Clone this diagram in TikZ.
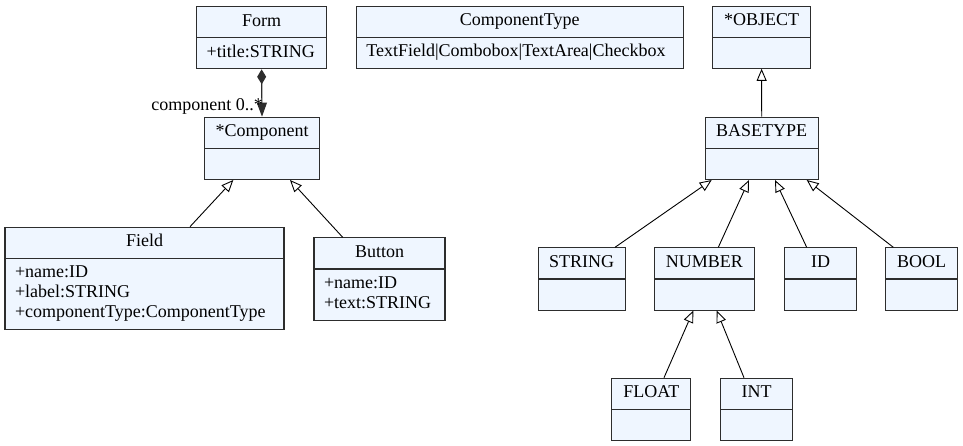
\documentclass[tikz,border=0pt]{standalone}
\usepackage{fontspec}
\setmainfont{Liberation Serif}
\usepackage{tikz}
\usetikzlibrary{arrows.meta,shapes.multipart,calc}

\definecolor{classfill}{RGB}{239,246,255}
\definecolor{classline}{RGB}{45,45,45}

\newcommand{\attrlist}[1]{\begin{tabular}{@{}l@{}}#1\end{tabular}}

\begin{document}
\begin{tikzpicture}[x=1pt,y=-1pt,
  umlclass/.style={rectangle split, rectangle split parts=2,
    rectangle split part align={center,left},
    draw=classline, line width=1.1pt, fill=classfill, anchor=north,
    inner xsep=10pt, inner ysep=5pt, font=\fontsize{18}{20}\selectfont},
  inherit/.style={-{Triangle[open,length=12pt,width=10pt]}, line width=0.9pt},
  compose/.style={{Diamond[length=15pt,width=9pt]}-{Triangle[length=14pt,width=10pt]}, line width=1.2pt, draw=classline}]
\useasboundingbox (0,0) rectangle (963,445);

\node[umlclass, minimum width=130pt] (form) at (261.6,6) {\strut Form\nodepart{second}\strut+title:STRING};
\node[umlclass, minimum width=327pt] (comptype) at (519.8,5.5) {\strut ComponentType\nodepart{second}\strut TextField|Combobox|TextArea|Checkbox};
\node[umlclass, minimum width=98pt] (object) at (761.6,5.5) {\strut *OBJECT\nodepart{second}\strut};

\node[umlclass, minimum width=115pt] (component) at (262,116.7) {\strut *Component\nodepart{second}\strut};
\node[umlclass, minimum width=113pt] (basetype) at (761.7,116.7) {\strut BASETYPE\nodepart{second}\strut};

\node[umlclass, minimum width=279pt] (field) at (144.5,226.7) {\strut Field\nodepart{second}\attrlist{+name:ID\\+label:STRING\\+componentType:ComponentType}};
\node[umlclass, minimum width=131pt] (button) at (379.5,237.3) {\strut Button\nodepart{second}\attrlist{+name:ID\\+text:STRING}};

\node[umlclass, minimum width=87pt] (string) at (581.7,247.3) {\strut STRING\nodepart{second}\strut};
\node[umlclass, minimum width=100pt] (number) at (704.3,247.3) {\strut NUMBER\nodepart{second}\strut};
\node[umlclass, minimum width=72pt] (id) at (820.5,247.3) {\strut ID\nodepart{second}\strut};
\node[umlclass, minimum width=72pt] (bool) at (921.7,247.3) {\strut BOOL\nodepart{second}\strut};

\node[umlclass, minimum width=79pt] (float) at (651.3,377.7) {\strut FLOAT\nodepart{second}\strut};
\node[umlclass, minimum width=72pt] (int) at (756.5,377.7) {\strut INT\nodepart{second}\strut};

\draw[compose] (form.south) -- (component.north);
\node[anchor=base east, font=\fontsize{18}{20}\selectfont, inner sep=0pt] (multi) at ([xshift=1pt,yshift=6pt]component.north) {component 0..*};

\draw[inherit] ([xshift=45.5pt]field.north) -- ([xshift=-28.7pt]component.south);
\draw[inherit] ([xshift=-36.8pt]button.north) -- ([xshift=28pt]component.south);

\draw[inherit] (basetype.north) -- (object.south);
\draw[inherit] ([xshift=33.3pt]string.north) -- ([xshift=-50pt]basetype.south);
\draw[inherit] ([xshift=14pt]number.north) -- ([xshift=-12.7pt]basetype.south);
\draw[inherit] ([xshift=-13.8pt]id.north) -- ([xshift=13.3pt]basetype.south);
\draw[inherit] ([xshift=-28.4pt]bool.north) -- ([xshift=45pt]basetype.south);

\draw[inherit] ([xshift=12.7pt]float.north) -- ([xshift=-11pt]number.south);
\draw[inherit] ([xshift=-12.5pt]int.north) -- ([xshift=12.4pt]number.south);
\end{tikzpicture}
\end{document}
